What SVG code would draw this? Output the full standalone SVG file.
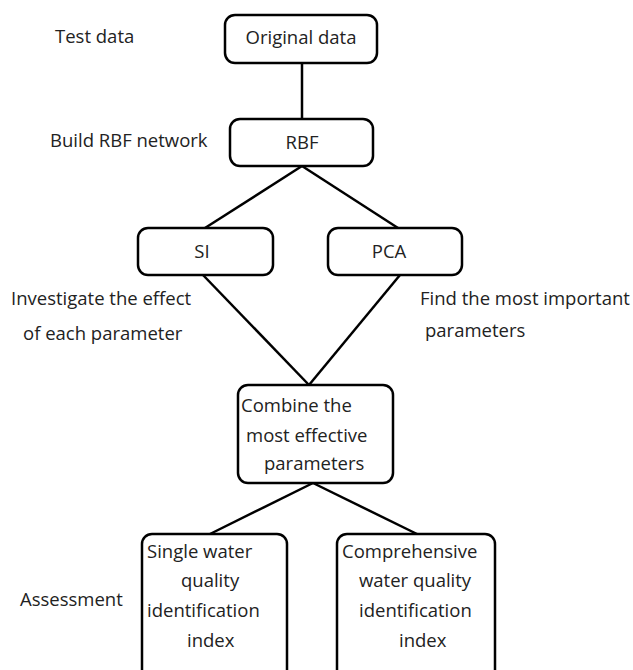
<svg xmlns="http://www.w3.org/2000/svg" width="633" height="670" viewBox="0 0 633 670">
<style>
.box{fill:#fff;stroke:#000;stroke-width:2.5}
.ln{stroke:#000;stroke-width:2.5;fill:none}
text{font-family:"Open Sans","Noto Sans","DejaVu Sans",sans-serif;font-size:18.5px;fill:#222}
</style>
<rect width="633" height="670" fill="#fff"/>
<g id="connectors">
<line class="ln" x1="302" y1="63" x2="302" y2="119"/>
<line class="ln" x1="302" y1="166" x2="205" y2="228"/>
<line class="ln" x1="302" y1="166" x2="398" y2="228"/>
<line class="ln" x1="203" y1="275" x2="309" y2="385"/>
<line class="ln" x1="400" y1="275" x2="309" y2="385"/>
<line class="ln" x1="313" y1="483" x2="210" y2="534"/>
<line class="ln" x1="313" y1="483" x2="417" y2="534"/>
</g>
<g id="original">
<rect class="box" x="225" y="15" width="152" height="48" rx="10"/>
<text x="301" y="44" text-anchor="middle">Original data</text>
</g>
<g id="rbf">
<rect class="box" x="230" y="119" width="143" height="47" rx="10"/>
<text x="302" y="149" text-anchor="middle">RBF</text>
</g>
<g id="si">
<rect class="box" x="138" y="228" width="135" height="47" rx="10"/>
<text x="202" y="258" text-anchor="middle">SI</text>
</g>
<g id="pca">
<rect class="box" x="328" y="228" width="134" height="47" rx="10"/>
<text x="389" y="258" text-anchor="middle">PCA</text>
</g>
<g id="combine">
<rect class="box" x="238" y="385" width="155" height="98" rx="10"/>
<text x="241" y="412">Combine the</text>
<text x="246" y="442">most effective</text>
<text x="264" y="470">parameters</text>
</g>
<g id="single">
<rect class="box" x="142" y="534" width="145" height="150" rx="10"/>
<text x="147" y="558">Single water</text>
<text x="181" y="587">quality</text>
<text x="147" y="617">identification</text>
<text x="187" y="647">index</text>
</g>
<g id="comprehensive">
<rect class="box" x="337" y="534" width="158" height="150" rx="10"/>
<text x="342" y="558">Comprehensive</text>
<text x="359" y="587">water quality</text>
<text x="359" y="617">identification</text>
<text x="399" y="647">index</text>
</g>
<g id="labels">
<text x="55" y="43">Test data</text>
<text x="50" y="147">Build RBF network</text>
<text x="11" y="305">Investigate the effect</text>
<text x="23" y="340">of each parameter</text>
<text x="420" y="305">Find the most important</text>
<text x="425" y="337">parameters</text>
<text x="20" y="606">Assessment</text>
</g>
</svg>
